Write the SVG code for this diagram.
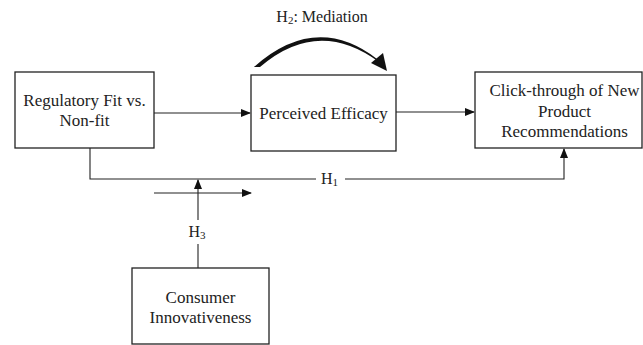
<svg xmlns="http://www.w3.org/2000/svg" width="643" height="345" viewBox="0 0 643 345">
<style>
.box{fill:#fff;stroke:#222;stroke-width:1.3}
.t{font-family:"Liberation Serif","Times New Roman",serif;font-size:17px;fill:#222;text-anchor:middle}
.l{font-family:"Liberation Serif","Times New Roman",serif;font-size:16px;fill:#222}
.c{fill:none;stroke:#222;stroke-width:1.1}
</style>
<defs>
<marker id="ah" markerWidth="10" markerHeight="8" refX="9" refY="4" orient="auto" markerUnits="userSpaceOnUse">
<path d="M0,0 L10,4 L0,8 Z" fill="#111"/>
</marker>
</defs>
<g id="connectors">
<line class="c" x1="154" y1="113" x2="250" y2="113" marker-end="url(#ah)"/>
<line class="c" x1="396" y1="112" x2="474" y2="112" marker-end="url(#ah)"/>
<polyline class="c" points="90,148 90,179 316,179"/>
<polyline class="c" points="345,179 564,179 564,149" marker-end="url(#ah)"/>
<line class="c" x1="198" y1="268" x2="198" y2="244"/>
<line class="c" x1="198" y1="220" x2="198" y2="180" marker-end="url(#ah)"/>
<line class="c" x1="154" y1="193" x2="251" y2="193" marker-end="url(#ah)"/>
<path d="M254,67 Q316,12 377,59 L379,62 Q318,17 260,67 Z" fill="#111"/>
<path d="M387,71 L371,63 L383,53 Z" fill="#111"/>
<text class="l" x="197" y="237" text-anchor="middle">H<tspan font-size="11" dy="2">3</tspan></text>
<text class="l" x="321" y="184">H<tspan font-size="11" dy="2">1</tspan></text>
<text class="l" x="322" y="22" text-anchor="middle">H<tspan font-size="11" dy="2">2</tspan><tspan dy="-2">: Mediation</tspan></text>
</g>
<g id="regulatory-fit">
<rect class="box" x="15" y="72" width="139" height="76"/>
<text class="t" x="84.5" y="106">Regulatory Fit vs.</text>
<text class="t" x="84.5" y="126">Non-fit</text>
</g>
<g id="perceived-efficacy">
<rect class="box" x="251" y="75" width="145" height="76"/>
<text class="t" x="323.5" y="119">Perceived Efficacy</text>
</g>
<g id="click-through">
<rect class="box" x="475" y="72" width="167" height="76"/>
<text class="t" x="564.5" y="96">Click-through of New</text>
<text class="t" x="564.5" y="117">Product</text>
<text class="t" x="564.5" y="137">Recommendations</text>
</g>
<g id="consumer-innovativeness">
<rect class="box" x="132" y="268" width="137" height="76"/>
<text class="t" x="200.5" y="303">Consumer</text>
<text class="t" x="200.5" y="323">Innovativeness</text>
</g>
</svg>
